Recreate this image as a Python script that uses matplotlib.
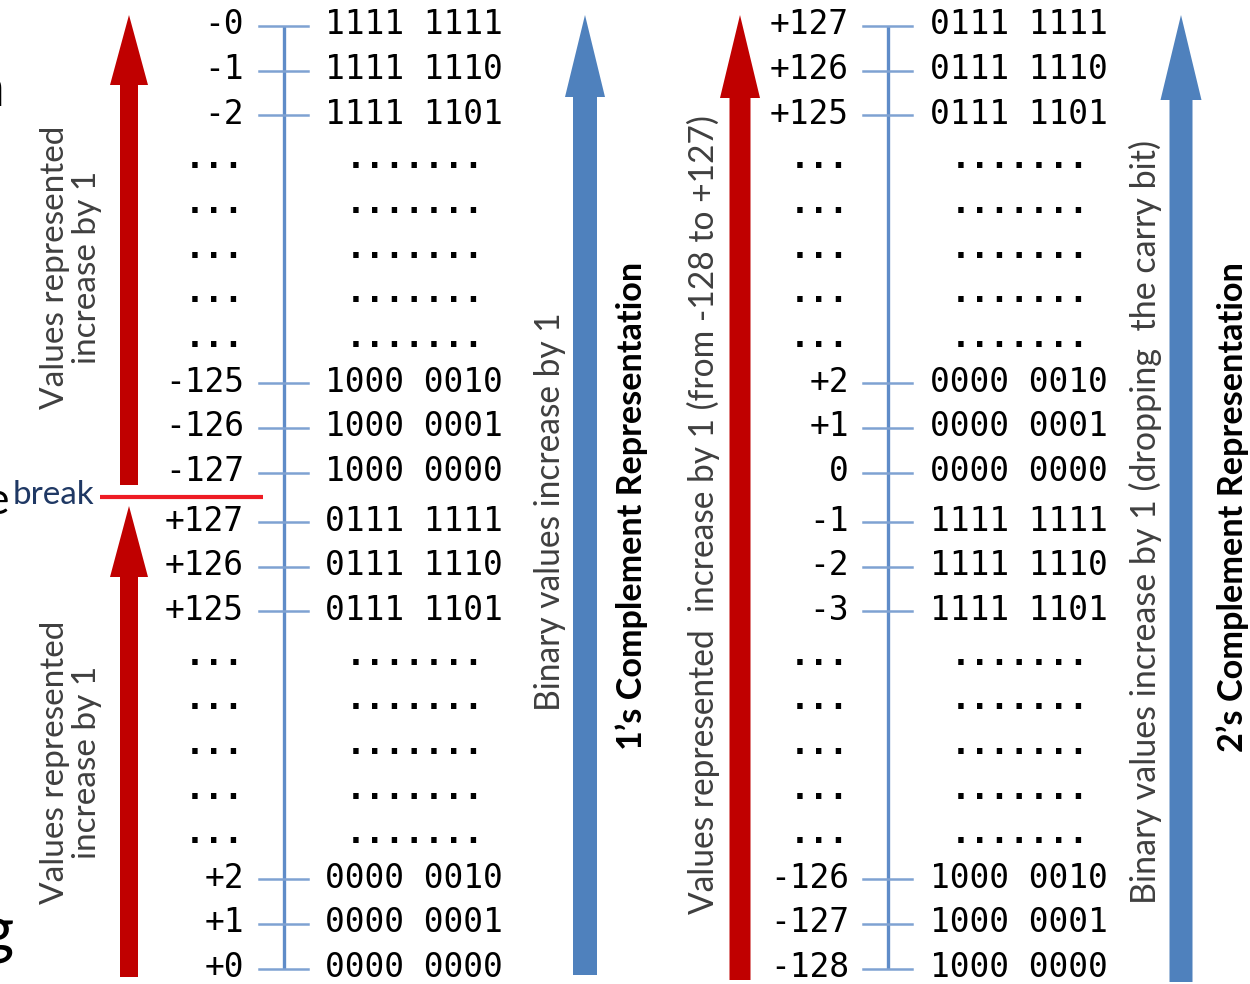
import matplotlib.pyplot as plt
from matplotlib.patches import FancyArrow

# row contents, top to bottom
ones_values = ["-0", "-1", "-2", "...", "...", "...", "...", "...",
               "-125", "-126", "-127",
               "+127", "+126", "+125", "...", "...", "...", "...", "...",
               "+2", "+1", "+0"]
ones_binary = ["1111 1111", "1111 1110", "1111 1101",
               ".......", ".......", ".......", ".......", ".......",
               "1000 0010", "1000 0001", "1000 0000",
               "0111 1111", "0111 1110", "0111 1101",
               ".......", ".......", ".......", ".......", ".......",
               "0000 0010", "0000 0001", "0000 0000"]

twos_values = ["+127", "+126", "+125", "...", "...", "...", "...", "...",
               "+2", "+1", "0",
               "-1", "-2", "-3", "...", "...", "...", "...", "...",
               "-126", "-127", "-128"]
twos_binary = ["0111 1111", "0111 1110", "0111 1101",
               ".......", ".......", ".......", ".......", ".......",
               "0000 0010", "0000 0001", "0000 0000",
               "1111 1111", "1111 1110", "1111 1101",
               ".......", ".......", ".......", ".......", ".......",
               "1000 0010", "1000 0001", "1000 0000"]

MONO = "DejaVu Sans Mono"
SANS = "Lato"
GRAY = "#3f3f3f"
RED = "#c00000"
BLUE = "#4f81bd"
AXIS = "#5f8cc8"
FS = 23.7


def row_y(i):
    return 23 + 44.65 * i + (5 if i >= 11 else 0)


fig = plt.figure(figsize=(12.5, 9.84), dpi=100)
ax = fig.add_axes([0, 0, 1, 1])
ax.set_xlim(0, 1250)
ax.set_ylim(984, 0)
ax.axis("off")
renderer = fig.canvas.get_renderer()


def fit_text(x, y, s, length, rotation=0, ha="center", **kw):
    t = ax.text(x, y, s, rotation=rotation, ha=ha, va="center", fontsize=20, **kw)
    bb = t.get_window_extent(renderer)
    cur = bb.height if rotation == 90 else bb.width
    t.set_fontsize(20 * length / cur)
    return t


def draw_scale(values, binary, label_x, axis_x, bin_x):
    ys = [row_y(i) for i in range(len(values))]
    ax.plot([axis_x, axis_x], [ys[0] + 3, ys[-1] + 3], color=AXIS, lw=2.4,
            solid_capstyle="butt")
    for v, b, y in zip(values, binary, ys):
        ty = y + 2
        if v == "...":
            ax.text(label_x, ty, v, ha="right", va="center", fontsize=FS,
                    family=MONO, fontweight="bold")
            ax.text(bin_x + 90, ty, b, ha="center", va="center", fontsize=FS,
                    family=MONO, fontweight="bold")
        else:
            ax.plot([axis_x - 25, axis_x + 24], [y + 3, y + 3], color="#7fa2d2",
                    lw=1.8)
            ax.text(label_x, ty, v, ha="right", va="center", fontsize=FS,
                    family=MONO)
            ax.text(bin_x, ty, b, ha="left", va="center", fontsize=FS,
                    family=MONO)


draw_scale(ones_values, ones_binary, 244, 284, 325)
draw_scale(twos_values, twos_binary, 849, 888, 930)

# arrows
arrows = [
    (129, 485, -470, 18, 38, 70, RED),
    (129, 977, -471, 18, 38, 71, RED),
    (585, 975, -960, 24, 40, 82, BLUE),
    (740, 980, -965, 21, 40, 83, RED),
    (1181, 982, -967, 23, 41, 85, BLUE),
]
for x, y, dy, w, hw, hl, c in arrows:
    ax.add_patch(FancyArrow(x, y, 0, dy, width=w, head_width=hw, head_length=hl,
                            length_includes_head=True, color=c, lw=0))

# break marker
ax.plot([100, 263], [497, 497], color="#ee1c24", lw=3, solid_capstyle="butt")
fit_text(13, 495, "break", 82, ha="left", family=SANS, color="#1f3864")

# rotated captions
fit_text(71, 267, "Values represented\nincrease by 1", 285, rotation=90,
         family=SANS, color=GRAY, linespacing=1.05)
fit_text(71, 762, "Values represented\nincrease by 1", 285, rotation=90,
         family=SANS, color=GRAY, linespacing=1.05)
fit_text(550, 512, "Binary values increase by 1", 400, rotation=90,
         family=SANS, color=GRAY)
fit_text(632, 506, "1’s Complement Representation", 488, rotation=90,
         family=SANS, fontweight="bold", color="black")
fit_text(703, 515, "Values represented  increase by 1 (from -128 to +127)", 800,
         rotation=90, family=SANS, color=GRAY)
fit_text(1145, 522, "Binary values increase by 1 (dropping  the carry bit)", 765,
         rotation=90, family=SANS, color=GRAY)
fit_text(1233, 507, "2’s Complement Representation", 490, rotation=90,
         family=SANS, fontweight="bold", color="black")

# clipped glyphs at the left edge
ax.text(4, 90, "n", ha="right", va="center", fontsize=40, family=SANS)
ax.text(9, 502, "e", ha="right", va="center", fontsize=32, family=SANS)
ax.text(14, 935, "g", ha="right", va="center", fontsize=46, family=SANS)

fig.savefig("out.png", dpi=100)
